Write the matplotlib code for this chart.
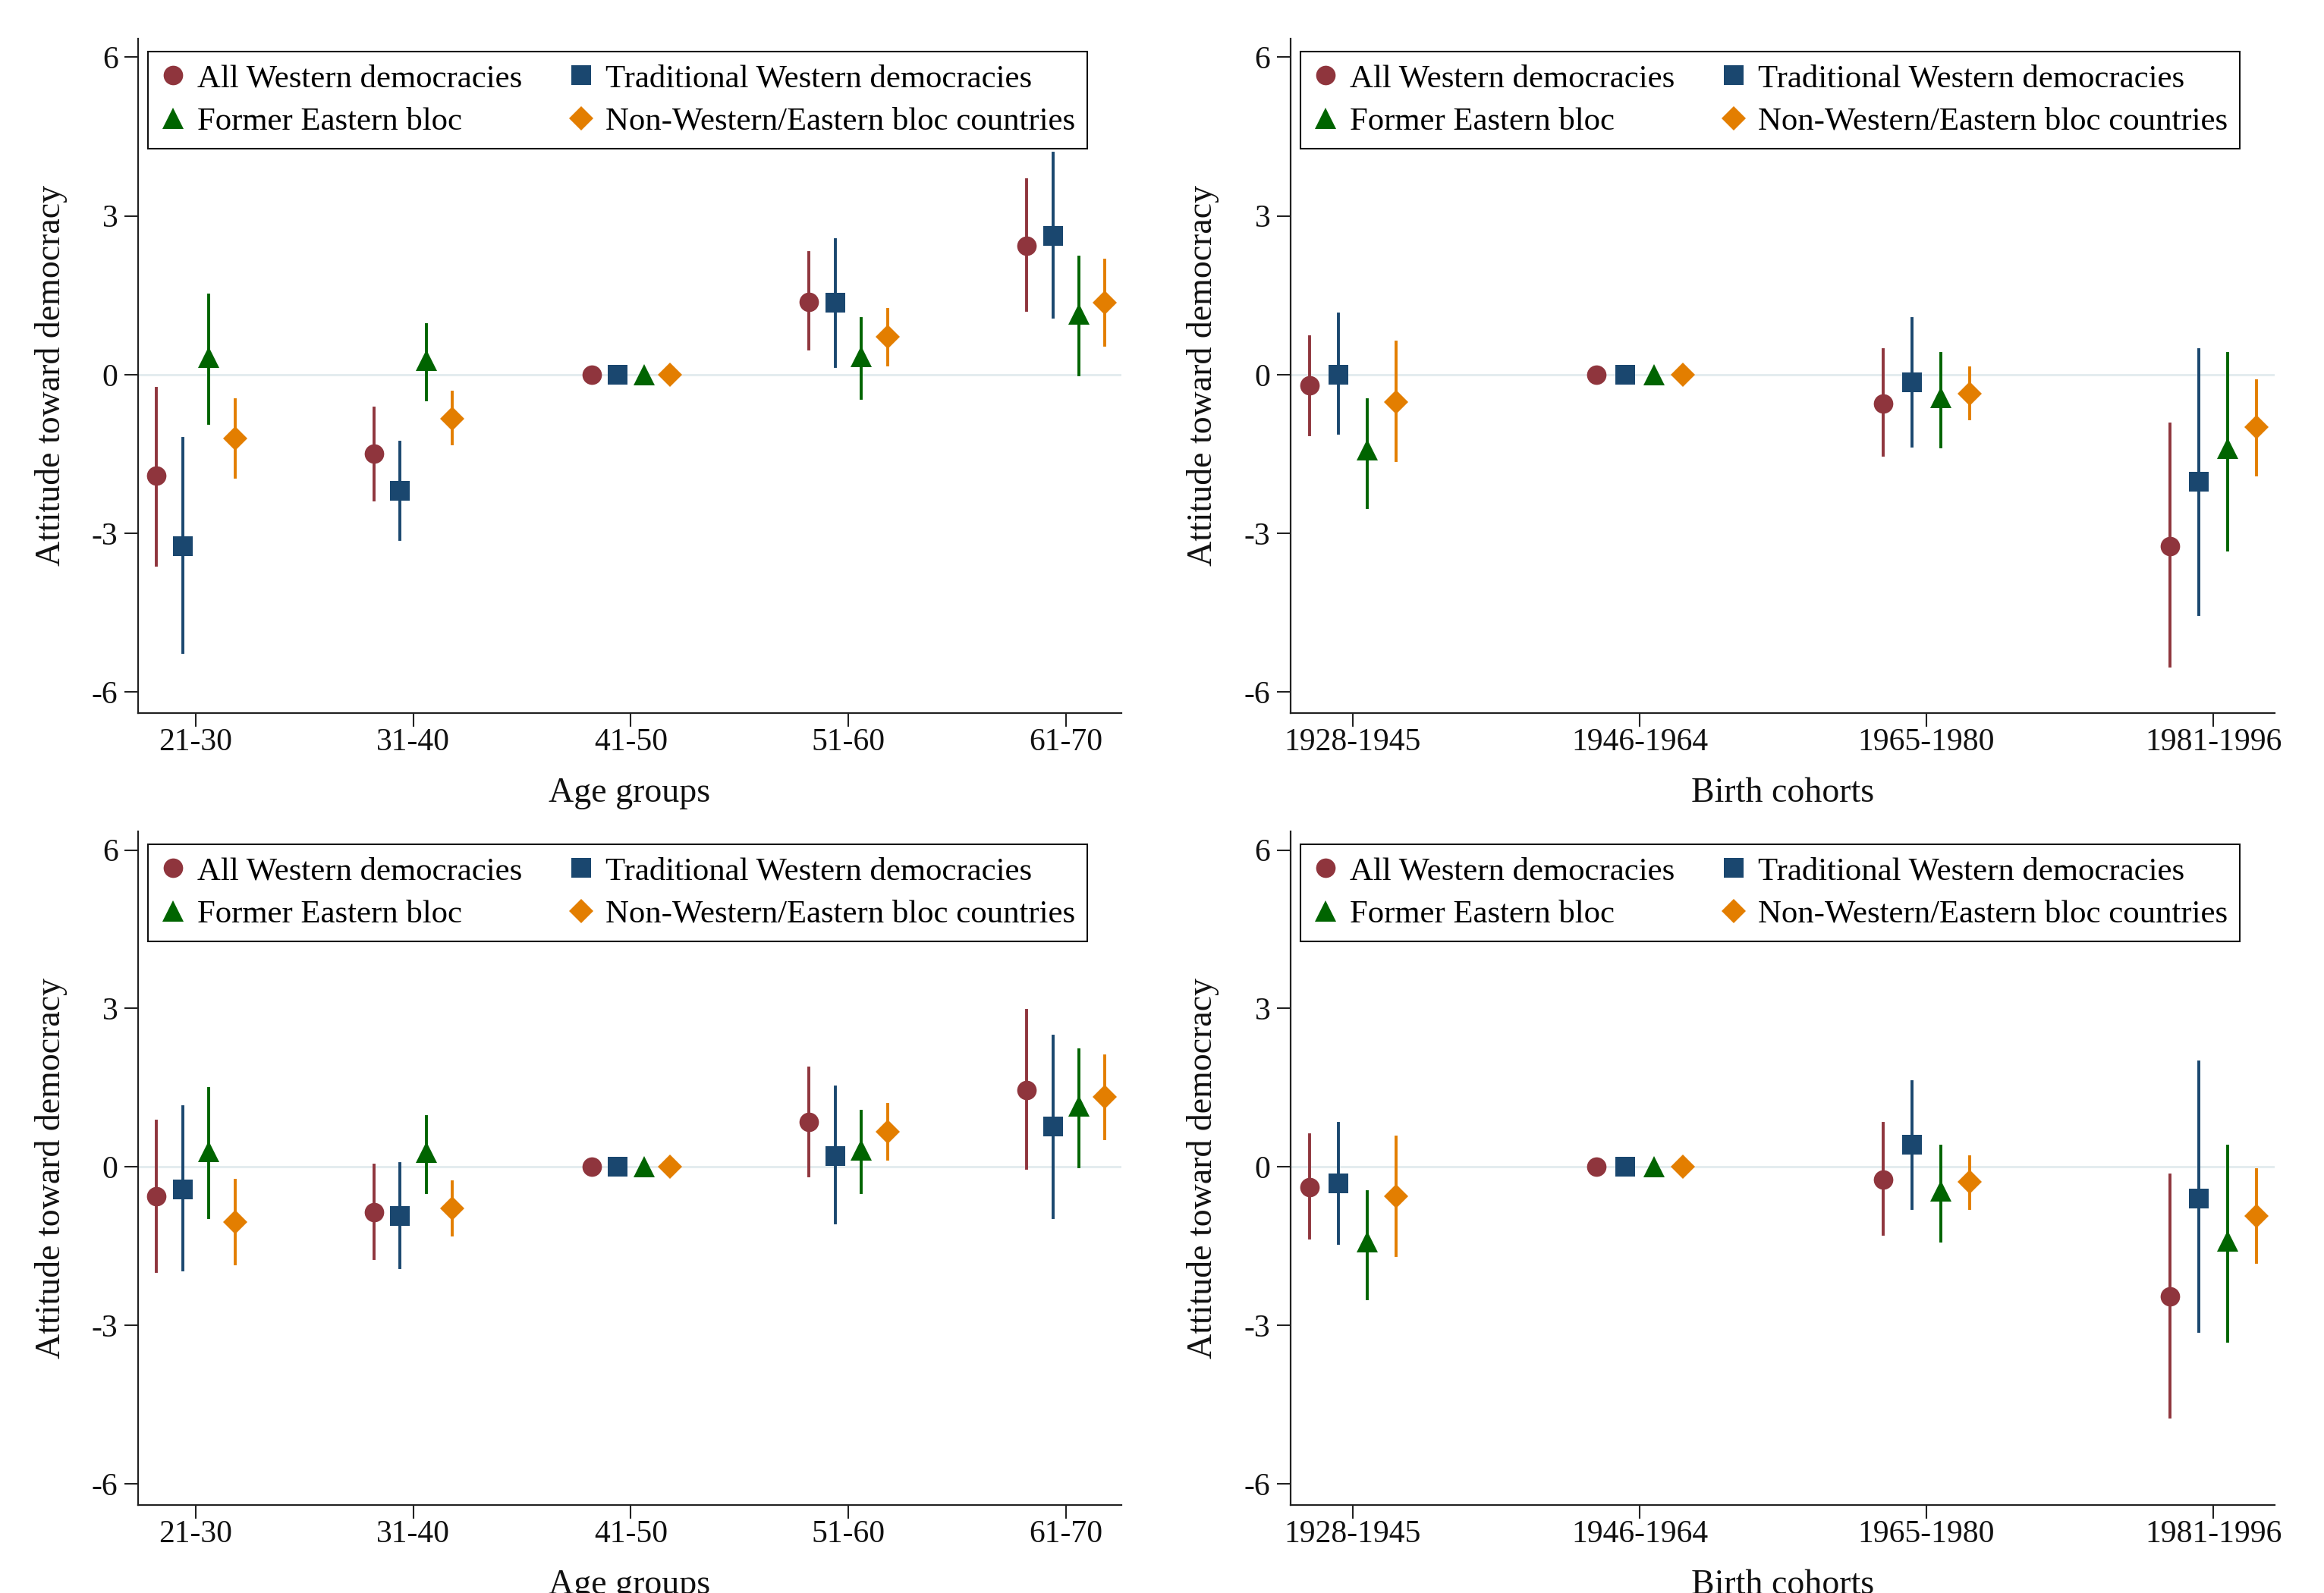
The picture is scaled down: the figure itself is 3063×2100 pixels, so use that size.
import matplotlib
matplotlib.use("Agg")
import matplotlib.pyplot as plt
from matplotlib.lines import Line2D

age_groups = ['21-30', '31-40', '41-50', '51-60', '61-70']
birth_cohorts = ['1928-1945', '1946-1964', '1965-1980', '1981-1996']
series_names = ['All Western democracies', 'Traditional Western democracies',
                'Former Eastern bloc', 'Non-Western/Eastern bloc countries']

# top-left panel (age groups), one row per series
age_top_est = [[-1.91, -1.50, 0, 1.38, 2.43],
               [-3.24, -2.20, 0, 1.36, 2.62],
               [0.32, 0.27, 0, 0.34, 1.14],
               [-1.21, -0.84, 0, 0.71, 1.36]]
age_top_lo = [[-3.60, -2.37, 0, 0.48, 1.21],
              [-5.25, -3.12, 0, 0.15, 1.09],
              [-0.92, -0.48, 0, -0.45, 0.00],
              [-1.94, -1.31, 0, 0.18, 0.56]]
age_top_hi = [[-0.26, -0.63, 0, 2.30, 3.68],
              [-1.21, -1.28, 0, 2.55, 4.19],
              [1.50, 0.95, 0, 1.06, 2.22],
              [-0.47, -0.34, 0, 1.23, 2.16]]

# top-right panel (birth cohorts)
coh_top_est = [[-0.21, 0, -0.55, -3.24],
               [0.00, 0, -0.15, -2.03],
               [-1.42, 0, -0.44, -1.39],
               [-0.52, 0, -0.36, -1.00]]
coh_top_lo = [[-1.13, 0, -1.52, -5.51],
              [-1.11, 0, -1.35, -4.54],
              [-2.51, 0, -1.37, -3.31],
              [-1.62, 0, -0.84, -1.89]]
coh_top_hi = [[0.71, 0, 0.47, -0.94],
              [1.14, 0, 1.06, 0.47],
              [-0.47, 0, 0.40, 0.40],
              [0.61, 0, 0.13, -0.12]]

# bottom-left panel (age groups)
age_bot_est = [[-0.55, -0.85, 0, 0.85, 1.46],
               [-0.43, -0.93, 0, 0.21, 0.76],
               [0.30, 0.28, 0, 0.32, 1.16],
               [-1.04, -0.79, 0, 0.67, 1.32]]
age_bot_lo = [[-1.97, -1.73, 0, -0.17, -0.03],
              [-1.95, -1.91, 0, -1.05, -0.95],
              [-0.95, -0.48, 0, -0.48, 0.00],
              [-1.83, -1.29, 0, 0.15, 0.54]]
age_bot_hi = [[0.87, 0.04, 0, 1.87, 2.96],
              [1.14, 0.07, 0, 1.51, 2.47],
              [1.49, 0.95, 0, 1.06, 2.22],
              [-0.25, -0.28, 0, 1.18, 2.10]]

# bottom-right panel (birth cohorts)
coh_bot_est = [[-0.38, 0, -0.24, -2.45],
               [-0.31, 0, 0.42, -0.60],
               [-1.42, 0, -0.45, -1.40],
               [-0.55, 0, -0.28, -0.93]]
coh_bot_lo = [[-1.34, 0, -1.27, -4.74],
              [-1.45, 0, -0.79, -3.11],
              [-2.50, 0, -1.40, -3.30],
              [-1.67, 0, -0.79, -1.80]]
coh_bot_hi = [[0.61, 0, 0.82, -0.15],
              [0.82, 0, 1.62, 1.99],
              [-0.47, 0, 0.39, 0.39],
              [0.56, 0, 0.19, -0.05]]

colors = ['#8f353d', '#1a476f', '#006400', '#e37e00']
markers = ['o', 's', '^', 'D']
msizes = [18.5, 18.5, 20.5, 16.5]

plt.rcParams['font.family'] = ['Liberation Serif', 'DejaVu Serif']
plt.rcParams['axes.unicode_minus'] = False

FS = 30


def draw_panel(ax, cats, est, lo, hi, offsets, xlabel, xlim):
    ax.axhline(0, color='#e4ecef', lw=2.2, zorder=0)
    for k in range(4):
        xs = [i + offsets[k] for i in range(len(cats))]
        for x, e, l, h in zip(xs, est[k], lo[k], hi[k]):
            if h > l:
                ax.plot([x, x], [l, h], color=colors[k], lw=2.8, zorder=2)
        ax.plot(xs, est[k], linestyle='none', marker=markers[k],
                markersize=msizes[k], color=colors[k], markeredgewidth=0,
                zorder=3)
    ax.set_xlim(*xlim)
    ax.set_ylim(-6.4, 6.35)
    ax.set_xticks(range(len(cats)))
    ax.set_xticklabels(cats)
    ax.set_yticks([-6, -3, 0, 3, 6])
    ax.set_yticklabels(['-6', '-3', '0', '3', '6'])
    for s in ['top', 'right']:
        ax.spines[s].set_visible(False)
    for s in ['left', 'bottom']:
        ax.spines[s].set_linewidth(1.6)
        ax.spines[s].set_color('#222222')
    ax.tick_params(axis='both', labelsize=FS, length=13, width=1.5,
                   color='#222222', labelcolor='#111111')
    ax.tick_params(axis='x', pad=1)
    ax.tick_params(axis='y', pad=6)
    ax.set_xlabel(xlabel, fontsize=33, color='#111111')
    ax.set_ylabel('Attitude toward democracy', fontsize=33, color='#111111')
    ax.xaxis.set_label_coords(0.5, -0.095)
    ax.yaxis.set_label_coords(-0.072, 0.5)

    handles = [Line2D([], [], linestyle='none', marker=markers[k],
                      markersize=msizes[k], color=colors[k],
                      markeredgewidth=0) for k in range(4)]
    # columns read: all western / traditional, eastern / non-western
    order = [0, 2, 1, 3]
    leg = ax.legend([handles[i] for i in order], [series_names[i] for i in order],
                    ncol=2, loc='upper left', bbox_to_anchor=(0.010, 0.981),
                    fontsize=30.8, frameon=True, fancybox=False, framealpha=1,
                    edgecolor='#111111', borderaxespad=0, borderpad=0.38,
                    labelspacing=0.41, handlelength=0.8, handletextpad=0.34,
                    columnspacing=1.42)
    leg.get_frame().set_linewidth(1.5)


fig = plt.figure(figsize=(30.63, 21.0), dpi=100)

age_off = [-0.18, -0.06, 0.06, 0.18]
coh_off = [-0.15, -0.05, 0.05, 0.15]

ax1 = fig.add_axes([0.0594, 0.5524, 0.4231, 0.4233])
ax2 = fig.add_axes([0.5553, 0.5524, 0.4235, 0.4233])
ax3 = fig.add_axes([0.0594, 0.0552, 0.4231, 0.4228])
ax4 = fig.add_axes([0.5553, 0.0552, 0.4235, 0.4228])

draw_panel(ax1, age_groups, age_top_est, age_top_lo, age_top_hi, age_off,
           'Age groups', (-0.265, 4.255))
draw_panel(ax2, birth_cohorts, coh_top_est, coh_top_lo, coh_top_hi, coh_off,
           'Birth cohorts', (-0.217, 3.214))
draw_panel(ax3, age_groups, age_bot_est, age_bot_lo, age_bot_hi, age_off,
           'Age groups', (-0.265, 4.255))
draw_panel(ax4, birth_cohorts, coh_bot_est, coh_bot_lo, coh_bot_hi, coh_off,
           'Birth cohorts', (-0.217, 3.214))

fig.savefig('out.png', dpi=100, facecolor='white')
